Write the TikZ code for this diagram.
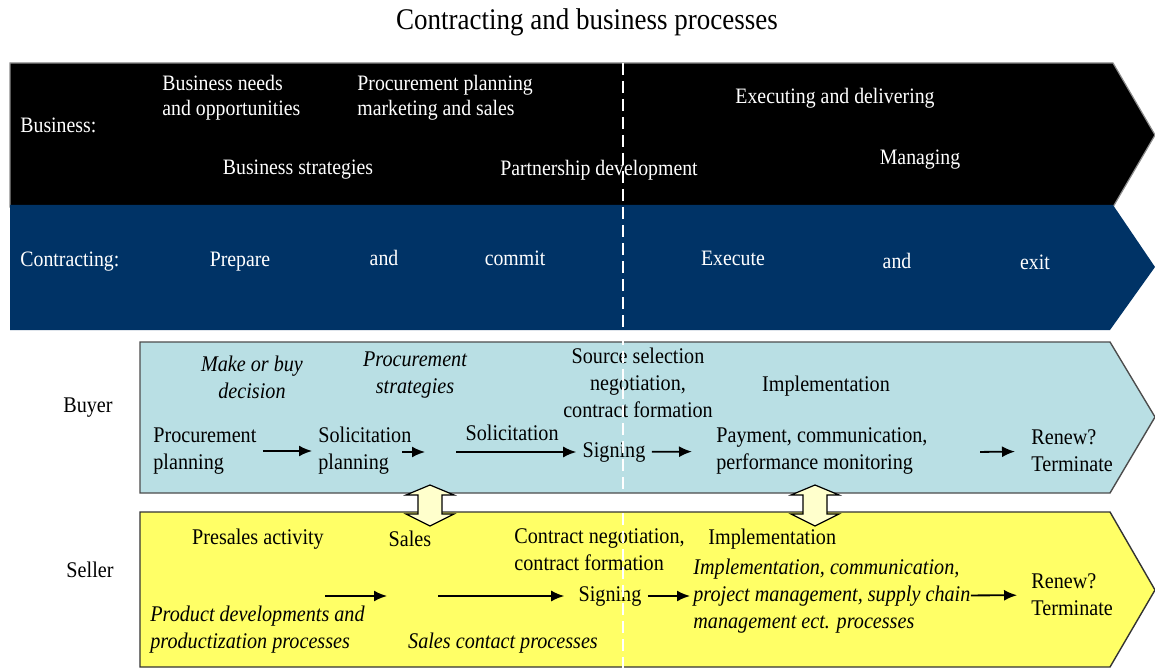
\documentclass[tikz,border=0pt]{standalone}
\usepackage{fontspec}
\setmainfont{Liberation Serif}[FakeStretch=0.9]
\usetikzlibrary{arrows.meta,calc,positioning}
\definecolor{navyband}{RGB}{0,51,102}
\definecolor{buyerblue}{RGB}{185,223,228}
\definecolor{selleryellow}{RGB}{255,255,102}
\definecolor{paleyellow}{RGB}{255,255,204}

\begin{document}
\begin{tikzpicture}[x=0.5pt,y=-0.5pt,
    wtxt/.style={text=white, inner sep=0pt, align=left, font=\fontsize{11}{12.5}\selectfont},
    btxt/.style={text=black, inner sep=0pt, align=left, font=\fontsize{11.2}{13.5}\selectfont},
    itxt/.style={btxt, font=\fontsize{11.2}{13.5}\selectfont\itshape},
    flow/.style={-{Latex[length=6.5pt,width=5.5pt]}, line width=0.9pt, shorten <=3pt, shorten >=3pt},
    link/.style={draw=black, fill=paleyellow, line width=0.6pt}]
        \useasboundingbox (0,0) rectangle (1155,668);
        %Title
        \node[font=\fontsize{15}{18}\selectfont] (title) at (587,22) {Contracting and business processes};
        %Bands
        \filldraw[fill=black, draw=black!45, line width=0.6pt] (10,63) -- (1113,63) -- (1155,135) -- (1113,207) -- (10,207) -- cycle;
        \fill[navyband] (10,205) -- (1113,205) -- (1155,267) -- (1110,330) -- (10,330) -- cycle;
        \filldraw[fill=buyerblue, draw=black!70, line width=0.7pt] (140,342) -- (1110,342) -- (1155,417) -- (1110,493) -- (140,493) -- cycle;
        \filldraw[fill=selleryellow, draw=black!80, line width=0.7pt] (140,512) -- (1110,512) -- (1155,590) -- (1110,667) -- (140,667) -- cycle;
        %Double arrows between buyer and seller
        \draw[link] (430,485) -- (454,495) -- (442,495) -- (442,514) -- (454,514) -- (430,526) -- (406,514) -- (418,514) -- (418,495) -- (406,495) -- cycle;
        \draw[link] (815,485) -- (839,495) -- (827,495) -- (827,514) -- (839,514) -- (815,526) -- (791,514) -- (803,514) -- (803,495) -- (791,495) -- cycle;
        %Business
        \node[wtxt, anchor=west] (bus) at (20,125) {Business:};
        \node[wtxt, anchor=west] (needs) at (162,98) {Business needs\\and opportunities};
        \node[wtxt, anchor=west] (plan) at (357,98) {Procurement planning\\marketing and sales};
        \node[wtxt] (strat) at (298,170) {Business strategies};
        \node[wtxt] (partner) at (599,170) {Partnership development};
        \node[wtxt] (exec) at (835,98) {Executing and delivering};
        \node[wtxt] (manage) at (920,160) {Managing};
        %Contracting
        \node[wtxt, anchor=west] (con) at (20,262) {Contracting:};
        \node[wtxt] (prep) at (240,262) {Prepare};
        \node[wtxt] (and1) at (384,258) {and};
        \node[wtxt] (commit) at (515,258) {commit};
        \node[wtxt] (execute) at (733,258) {Execute};
        \node[wtxt] (and2) at (897,261) {and};
        \node[wtxt] (exit) at (1035,262) {exit};
        %Buyer
        \node[btxt] (buyer) at (88,408) {Buyer};
        \node[itxt, align=center] (mob) at (252,377) {Make or buy\\decision};
        \node[itxt, align=center] (pstrat) at (415,375) {Procurement\\strategies};
        \node[btxt, align=center] (srcsel) at (638,383) {Source selection\\negotiation,\\contract formation};
        \node[btxt] (bimpl) at (826,386) {Implementation};
        \node[btxt, anchor=west] (pplan) at (153,451) {Procurement\\planning};
        \node[btxt, anchor=west] (splan) at (318,451) {Solicitation\\planning};
        \node[btxt] (bsign) at (614,452) {Signing};
        \node[btxt, anchor=west] (pay) at (716,451) {Payment, communication,\\performance monitoring};
        \node[btxt, anchor=west] (brenew) at (1031,451) {Renew?\\Terminate};
        \coordinate (sp1) at (396,452);
        \coordinate (sp2) at (431,452);
        \coordinate (sol) at (450,452);
        \coordinate (pm) at (974,452);
        \draw[flow] (pplan) -- (splan);
        \draw[flow] (sp1) -- (sp2);
        \draw[flow] (sol) -- node[btxt, above=5pt, pos=0.47] (solic) {Solicitation} (bsign);
        \draw[flow, shorten >=12pt] (bsign) -- (pay);
        \draw[flow, shorten >=8pt] (pm) -- (brenew);
        %Seller
        \node[btxt] (seller) at (90,570) {Seller};
        \node[btxt] (presales) at (258,539) {Presales activity};
        \node[btxt] (sales) at (410,539) {Sales};
        \node[btxt, anchor=west] (cneg) at (514,550) {Contract negotiation,\\contract formation};
        \node[btxt, anchor=west] (simpl) at (708,539) {Implementation};
        \node[btxt] (ssign) at (610,596) {Signing};
        \node[itxt, anchor=west] (iproc) at (693,596) {Implementation, communication,\\project management, supply chain\\management ect. processes};
        \node[btxt, anchor=west] (srenew) at (1031,595) {Renew?\\Terminate};
        \node[itxt, anchor=west] (prod) at (150,630) {Product developments and\\productization processes};
        \node[itxt] (scp) at (503,643) {Sales contact processes};
        \coordinate (s1) at (319,596);
        \coordinate (s2) at (393,596);
        \coordinate (s3) at (432,596);
        \draw[flow] (s1) -- (s2);
        \draw[flow, shorten >=7pt] (s3) -- (ssign);
        \draw[flow, shorten >=1.5pt] (ssign) -- (iproc);
        \draw[flow, shorten <=0pt, shorten >=7pt] (iproc) -- (srenew);
        %Divider
        \draw[white, line width=1pt, dash pattern=on 6pt off 3pt] (623,63) -- (623,668);
      \end{tikzpicture}
\end{document}
